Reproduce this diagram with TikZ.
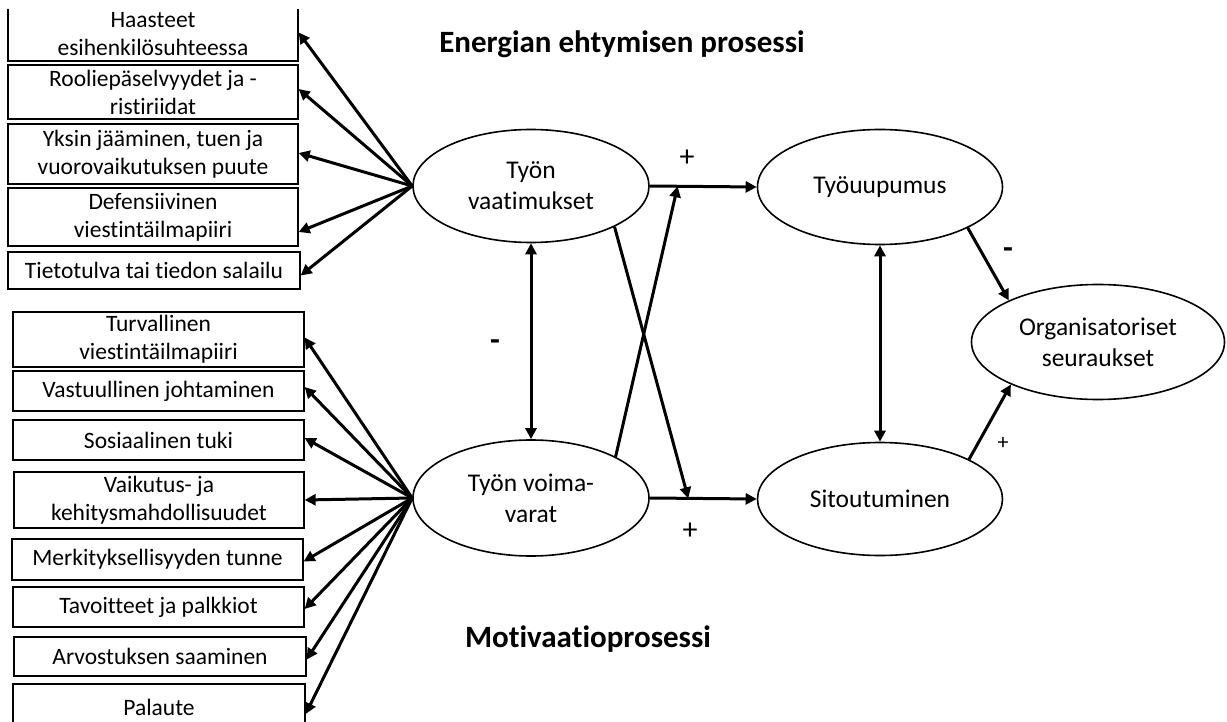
\documentclass[tikz,border=0pt]{standalone}
\usepackage{fontspec}
\setmainfont{Carlito}[Ligatures=NoCommon]
\usetikzlibrary{arrows.meta,shapes.geometric,calc}
\newcommand\myboxfont{\fontsize{23.5}{28}\selectfont}
\newcommand\myellfont{\fontsize{25.5}{31}\selectfont}
\newcommand\mytitlefont{\fontsize{31}{37}\selectfont\bfseries}
\tikzset{
  boxnode/.style={draw, line width=1.3pt, inner sep=0pt, align=center, font=\myboxfont},
  ellnode/.style={draw, ellipse, line width=1.6pt, inner sep=0pt, align=center, font=\myellfont},
  arr/.style={line width=3pt, -{Triangle[length=11pt,width=11pt]}},
  darr/.style={line width=3pt, {Triangle[length=11pt,width=11pt]}-{Triangle[length=11pt,width=11pt]}},
  signlbl/.style={inner sep=0pt, font=\fontsize{30}{36}\selectfont},
  minuslbl/.style={inner sep=0pt, font=\fontsize{32}{38}\selectfont\bfseries},
}
\begin{document}
\begin{tikzpicture}[x=1pt,y=-1pt]
\useasboundingbox (0,0) rectangle (1227,722);
\fill[white] (0,0) rectangle (1227,722);
\clip (0,9.5) rectangle (1227,722);

% left boxes: demands
\node[boxnode, minimum width=290pt, minimum height=53pt] (b1) at (153,34.5) {Haasteet\\esihenkilösuhteessa};
\node[boxnode, minimum width=290pt, minimum height=54pt] (b2) at (153,92) {Rooliepäselvyydet ja -\\ristiriidat};
\node[boxnode, minimum width=290pt, minimum height=60pt] (b3) at (153,154) {Yksin jääminen, tuen ja\\vuorovaikutuksen puute};
\node[boxnode, minimum width=290pt, minimum height=58pt] (b4) at (153,217) {Defensiivinen\\viestintäilmapiiri};
\node[boxnode, minimum width=292pt, minimum height=37pt] (b5) at (154,270.5) {Tietotulva tai tiedon salailu};

% left boxes: resources
\node[boxnode, minimum width=291pt, minimum height=55pt] (b6) at (158.5,339.5) {Turvallinen\\viestintäilmapiiri};
\node[boxnode, minimum width=291pt, minimum height=40pt] (b7) at (158.5,391) {Vastuullinen johtaminen};
\node[boxnode, minimum width=291pt, minimum height=40pt] (b8) at (158.5,440) {Sosiaalinen tuki};
\node[boxnode, minimum width=290pt, minimum height=56pt] (b9) at (159,500) {Vaikutus- ja\\kehitysmahdollisuudet};
\node[boxnode, minimum width=291pt, minimum height=41pt] (b10) at (157.5,559.5) {Merkityksellisyyden tunne};
\node[boxnode, minimum width=291pt, minimum height=40pt] (b11) at (158.5,607) {Tavoitteet ja palkkiot};
\node[boxnode, minimum width=292pt, minimum height=39pt] (b12) at (160,656.5) {Arvostuksen saaminen};
\node[boxnode, minimum width=292pt, minimum height=46pt] (b13) at (159,707) {Palaute};

% ellipses
\node[ellnode, minimum width=236pt, minimum height=113pt] (vaat) at (531,186) {Työn\\vaatimukset};
\node[ellnode, minimum width=236pt, minimum height=116pt] (voim) at (531,498) {Työn voima-\\varat};
\node[ellnode, minimum width=245pt, minimum height=115pt] (uup) at (880,187) {Työuupumus};
\node[ellnode, minimum width=245pt, minimum height=113pt] (sit) at (880,499) {Sitoutuminen};
\node[ellnode, minimum width=253pt, minimum height=115pt] (org) at (1098,342) {Organisatoriset\\seuraukset};

% titles
\node[anchor=base, inner sep=0pt, font=\mytitlefont] (t1) at (622,53) {Energian ehtymisen prosessi};
\node[anchor=base, inner sep=0pt, font=\mytitlefont] (t2) at (588,647) {Motivaatioprosessi};

% fan arrows: demands
\draw[arr] (vaat.west) -- ([yshift=2pt]b1.east);
\draw[arr] (vaat.west) -- ([yshift=3pt]b2.east);
\draw[arr] (vaat.west) -- ([yshift=1pt]b3.east);
\draw[arr] (vaat.west) -- ([yshift=-15pt]b4.east);
\draw[arr] (vaat.west) -- ([yshift=-5pt]b5.east);

% fan arrows: resources
\draw[arr] (voim.west) -- ([yshift=2pt]b6.east);
\draw[arr] (voim.west) -- ([yshift=4pt]b7.east);
\draw[arr] (voim.west) -- ([yshift=2pt]b8.east);
\draw[arr] (voim.west) -- (b9.east);
\draw[arr] (voim.west) -- ([yshift=-2pt]b10.east);
\draw[arr] (voim.west) -- ([yshift=-2pt]b11.east);
\draw[arr] (voim.west) -- ([yshift=-3pt]b12.east);
\draw[arr] (voim.west) -- ([yshift=-7pt]b13.east);

% main structure
\coordinate (c1) at ($(vaat.east)!0.26!(uup.west)$);
\coordinate (c2) at ($(voim.east)!0.36!(sit.west)$);
\draw[arr] (vaat.east) -- (uup.west);
\draw[arr] (voim.east) -- (sit.west);
\draw[darr] (vaat.south) -- (voim.north);
\draw[darr] (uup.south) -- (sit.north);
\draw[arr] (vaat.-26) -- (c2);
\draw[arr] (voim.26) -- (c1);
\draw[arr] (uup.-25) -- (org.155);
\draw[arr] (sit.24) -- (org.206);

% signs
\node[signlbl] (s1) at (687,158) {+};
\node[minuslbl] (s2) at (495,345) {-};
\node[signlbl] (s3) at (690,531) {+};
\node[minuslbl] (s4) at (1008,253) {-};
\node[signlbl, font=\fontsize{22}{26}\selectfont] (s5) at (1003,443) {+};
\end{tikzpicture}
\end{document}
